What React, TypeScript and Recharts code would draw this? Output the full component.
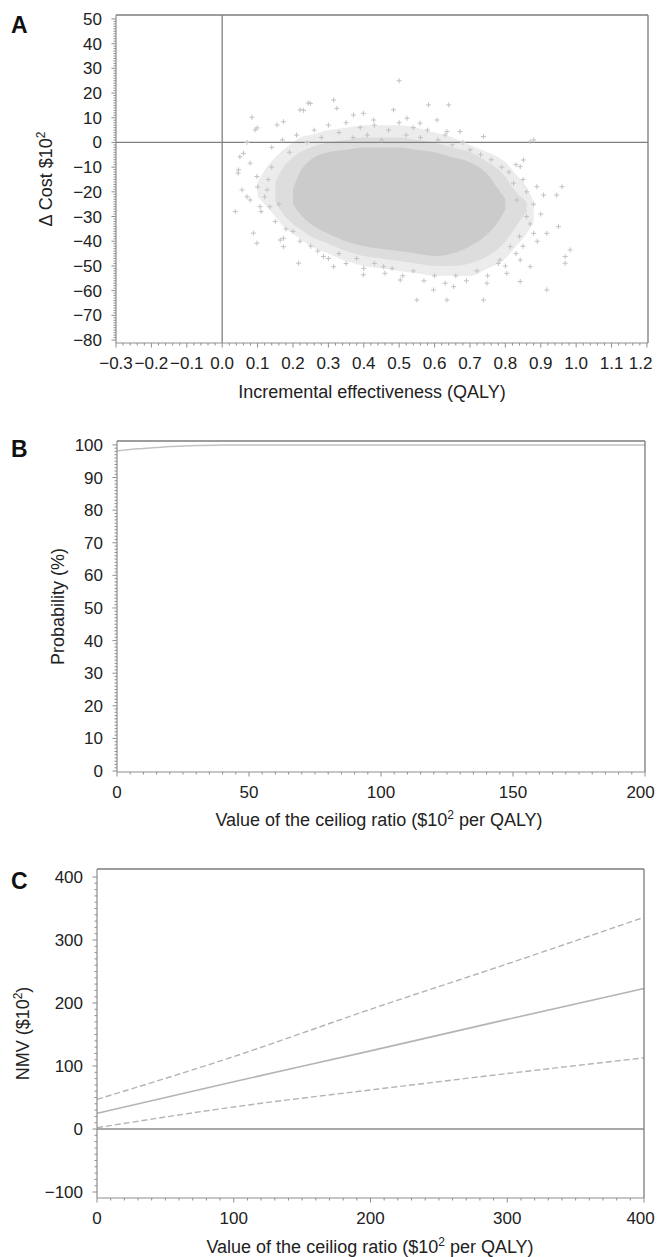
import React from "react";
import {
  ComposedChart,
  LineChart,
  Line,
  Area,
  Scatter,
  XAxis,
  YAxis,
  ReferenceLine,
  Label,
} from "recharts";

const FONT = "'Liberation Sans', Arial, Helvetica, sans-serif";
const TEXT = "#222";
const AXIS = "#8e8e8e";
const FRAME = "#7c7c7c";
const MARK = "#c2c2c2";

// ---- Panel A: cost-effectiveness plane ----
// density envelope of the simulation cloud
const envX = [0.1, 0.126, 0.15, 0.173, 0.2, 0.22, 0.25, 0.3, 0.35, 0.4, 0.45, 0.5, 0.55, 0.6, 0.65, 0.7, 0.75, 0.78, 0.8, 0.83, 0.86, 0.88];
const envOuter = [
  [-22, -16], [-26, -10], [-30, -6], [-34, -3], [-37, 0], [-39, 2], [-42, 3], [-45, 5], [-48, 6], [-50, 7], [-51, 7],
  [-52, 7], [-53, 6], [-54, 4], [-54, 2], [-54, -1], [-51, -4], [-49, -6], [-47, -8], [-42, -13], [-37, -18], [-32, -24],
];
const envMid = [
  null, null, [-24, -16], [-29, -10], [-33, -6], [-35, -4], [-38, -2], [-41, 0], [-44, 1], [-46, 2], [-47, 2],
  [-48, 2], [-49, 1], [-50, 0], [-50, -2], [-49, -4], [-46, -8], [-43, -11], [-40, -14], [-34, -20], [-28, -24], null,
];
const envCore = [
  null, null, null, null, [-25, -19], [-29, -12], [-33, -7], [-37, -4], [-40, -3], [-42, -2], [-43, -2],
  [-44, -2], [-45, -3], [-46, -4], [-45, -6], [-42, -8], [-37, -13], [-32, -19], [-27, -23], null, null, null,
];

// scattered simulations outside the dense core (QALY, cost)
const simPoints: [number, number][] = [
  [0.084, 10.2], [0.093, 5.1], [0.099, 5.9], [0.155, 7.1], [0.173, 8.4], [0.22, 13.2], [0.23, 13], [0.243, 16], [0.249, 15.8],
  [0.315, 17.2], [0.324, 13.8], [0.371, 11.1], [0.399, 11.8], [0.428, 9.1], [0.484, 13.2], [0.5, 25], [0.522, 9.8],
  [0.559, 7.8], [0.583, 15.2], [0.607, 9.1], [0.635, 4.4], [0.64, 15.2], [0.672, 4.4], [0.738, 2.4], [0.87, 0.3], [0.88, 1.0],
  [0.07, 0], [0.05, -5.8], [0.045, -12.4], [0.06, -4.4], [0.046, -11.1], [0.037, -28], [0.079, -8.4], [0.098, -13.8],
  [0.056, -19.2], [0.07, -22], [0.079, -23.3], [0.107, -26], [0.127, -19.2], [0.135, -26], [0.088, -36.7], [0.098, -40.8],
  [0.164, -39.5], [0.173, -42.2], [0.173, -38.8], [0.216, -48.9], [0.286, -46.2], [0.315, -50.3], [0.399, -53.6],
  [0.456, -50.3], [0.503, -55.7], [0.55, -63.8], [0.597, -59.7], [0.635, -63.8], [0.654, -58.4], [0.738, -63.8],
  [0.748, -57], [0.804, -53], [0.842, -56.3], [0.87, -50.3], [0.917, -59.7], [0.969, -46.2], [0.983, -43.5],
  [0.969, -48.9], [0.95, -34.1], [0.96, -17.9], [0.945, -21.3], [0.908, -21.3], [0.889, -17.9], [0.917, -36.8],
  [0.88, -36.8], [0.86, -30], [0.851, -7.1], [0.842, -9.8], [0.823, -16.5], [0.832, -23.3], [0.814, -42.2],
  [0.785, -47.6], [0.842, -47.6],
  // fringe around the cloud
  [0.14, -2], [0.17, 1], [0.19, -4], [0.21, 3], [0.24, 0], [0.26, 5], [0.28, 2], [0.3, 7], [0.33, 4], [0.35, 8],
  [0.37, 2], [0.39, 6], [0.41, 3], [0.43, 7], [0.45, 1], [0.47, 5], [0.5, 8], [0.52, 3], [0.54, 6], [0.56, 2],
  [0.58, 5], [0.61, 1], [0.63, 3], [0.65, -1], [0.68, 0], [0.7, -3], [0.73, -5], [0.76, -7], [0.79, -10], [0.81, -12],
  [0.2, -36], [0.22, -40], [0.25, -42], [0.27, -44], [0.3, -47], [0.33, -45], [0.35, -49], [0.38, -47], [0.4, -51],
  [0.43, -49], [0.46, -53], [0.48, -51], [0.51, -54], [0.54, -52], [0.57, -56], [0.6, -54], [0.63, -57], [0.66, -54],
  [0.69, -56], [0.72, -52], [0.75, -54], [0.78, -49], [0.8, -50], [0.83, -45], [0.85, -42],
  [0.1, -18], [0.12, -22], [0.13, -15], [0.11, -28], [0.15, -32], [0.14, -10], [0.16, -25], [0.18, -35],
  [0.86, -20], [0.88, -25], [0.87, -33], [0.9, -29], [0.84, -38], [0.89, -40], [0.85, -15], [0.83, -9],
];

// ---- Panel B: acceptability curve ----
const ceacLambda = [0, 5, 10, 15, 20, 25, 30, 40, 50, 75, 100, 125, 150, 175, 200];
const ceacProb = [98.2, 98.6, 98.9, 99.2, 99.5, 99.7, 99.85, 99.95, 100, 100, 100, 100, 100, 100, 100];

// ---- Panel C: net monetary value ----
const nmvLambda = [0, 100, 200, 300, 400];
const nmvMean = [25, 75, 124, 174, 223];
const nmvUpper = [47, 115, 190, 262, 336];
const nmvLower = [2, 35, 62, 88, 113];

const envRows = envX.map((x, i) => ({ x, outer: envOuter[i], mid: envMid[i], core: envCore[i] }));
const simRows = simPoints.map(([x, y]) => ({ x, y }));
const ceacRows = ceacLambda.map((l, i) => ({ l, p: ceacProb[i] }));
const nmvRows = nmvLambda.map((l, i) => ({ l, mean: nmvMean[i], upper: nmvUpper[i], lower: nmvLower[i] }));

// tick positions (major + minor)
const steps = (from: number, to: number, step: number, dec = 0) => {
  const out: number[] = [];
  const n = Math.round((to - from) / step);
  for (let i = 0; i <= n; i++) out.push(Number((from + i * step).toFixed(dec)));
  return out;
};

const minus = (s: string) => s.replace("-", "\u2212");
const fmtInt = (v: number) => minus(String(v));
const fmtDec = (v: number) => minus(v.toFixed(1));
const every = (n: number, scale = 1) => (v: number) => Math.round(v * scale) % n === 0;

const bottomTick = (isMajor: (v: number) => boolean, fmt: (v: number) => string) => (p: any) => {
  const v = p.payload.value;
  const major = isMajor(v);
  const label = fmt(v);
  // keep the last label inside the page, as the original does
  const tx = Math.min(p.x, 655 - label.length * 4.8);
  return (
    <g key={`bt-${p.index}`}>
      <line x1={p.x} x2={p.x} y1={p.y} y2={p.y + (major ? 4.5 : 2.5)} stroke={AXIS} strokeWidth={1} />
      {major && (
        <text x={tx} y={p.y + 26} textAnchor="middle" fontSize={17} fill={TEXT} fontFamily={FONT}>
          {label}
        </text>
      )}
    </g>
  );
};

const leftTick = (isMajor: (v: number) => boolean, fmt: (v: number) => string) => (p: any) => {
  const v = p.payload.value;
  const major = isMajor(v);
  return (
    <g key={`lt-${p.index}`}>
      <line x1={p.x} x2={p.x - (major ? 4.5 : 2.5)} y1={p.y} y2={p.y} stroke={AXIS} strokeWidth={1} />
      {major && (
        <text x={p.x - 14} y={p.y + 6} textAnchor="end" fontSize={17} fill={TEXT} fontFamily={FONT}>
          {fmt(v)}
        </text>
      )}
    </g>
  );
};

// text with a raised "2"
const supText = (before: string, sup: string, after?: string) => (
  <>
    <tspan>{before}</tspan>
    <tspan dy={-7} fontSize={12}>
      {sup}
    </tspan>
    {after ? <tspan dy={7}>{after}</tspan> : null}
  </>
);

const xTitle = (cx: number, dyCenter: number, parts: React.ReactNode) => (props: any) => {
  const vb = props.viewBox || {};
  return (
    <text x={cx} y={vb.y + dyCenter + 6} textAnchor="middle" fontSize={18} fill={TEXT} fontFamily={FONT}>
      {parts}
    </text>
  );
};

const yTitle = (cx: number, parts: React.ReactNode) => (props: any) => {
  const vb = props.viewBox || {};
  const cy = vb.y + vb.height / 2;
  return (
    <text
      x={cx}
      y={cy + 6}
      transform={`rotate(-90 ${cx} ${cy})`}
      textAnchor="middle"
      fontSize={18}
      fill={TEXT}
      fontFamily={FONT}
    >
      {parts}
    </text>
  );
};

const plus = (p: any) => {
  const { cx, cy } = p;
  if (cx == null || cy == null) return <g />;
  return (
    <path
      d={`M${cx - 2.5} ${cy}H${cx + 2.5}M${cx} ${cy - 2.5}V${cy + 2.5}`}
      stroke={MARK}
      strokeWidth={1}
      fill="none"
    />
  );
};

const Letter = ({ ch, top }: { ch: string; top: number }) => (
  <div
    style={{
      position: "absolute",
      left: 11,
      top,
      fontSize: 23,
      lineHeight: "23px",
      fontWeight: "bold",
      fontFamily: FONT,
      color: "#111",
    }}
  >
    {ch}
  </div>
);

const ceilingTitle = supText("Value of the ceiliog ratio ($10", "2", " per QALY)");

function PlaneChart() {
  const yMax = 51.6;
  const xMax = 1.203;
  return (
    <ComposedChart width={657} height={412} data={envRows} margin={{ top: 15, right: 9, left: 56, bottom: 39 }}>
      <XAxis
        type="number"
        dataKey="x"
        domain={[-0.3, xMax]}
        allowDataOverflow
        ticks={steps(-0.3, 1.2, 0.02, 2)}
        interval={0}
        tickSize={0}
        tickMargin={0}
        tickLine={false}
        axisLine={{ stroke: AXIS, strokeWidth: 1.2 }}
        tick={bottomTick(every(10, 100), fmtDec)}
        height={30}
      >
        <Label content={xTitle(372, 49, "Incremental effectiveness (QALY)")} />
      </XAxis>
      <YAxis
        type="number"
        dataKey="y"
        domain={[-81.2, yMax]}
        allowDataOverflow
        ticks={steps(-80, 50, 1)}
        interval={0}
        tickSize={0}
        tickMargin={0}
        tickLine={false}
        axisLine={{ stroke: AXIS, strokeWidth: 1.2 }}
        tick={leftTick(every(10), fmtInt)}
        width={60}
      >
        <Label content={yTitle(46, supText("\u0394 Cost $10", "2"))} />
      </YAxis>
      <Area dataKey="outer" type="monotone" stroke="none" fill="#ececec" fillOpacity={1} dot={false} activeDot={false} isAnimationActive={false} />
      <Area dataKey="mid" type="monotone" stroke="none" fill="#dddddd" fillOpacity={1} dot={false} activeDot={false} isAnimationActive={false} />
      <Area dataKey="core" type="monotone" stroke="none" fill="#cbcbcb" fillOpacity={1} dot={false} activeDot={false} isAnimationActive={false} />
      <Scatter data={simRows} shape={plus} isAnimationActive={false} />
      <ReferenceLine x={0} stroke="#808080" strokeWidth={1.3} />
      <ReferenceLine y={0} stroke="#808080" strokeWidth={1.3} />
      <ReferenceLine y={yMax} stroke={FRAME} strokeWidth={1.3} />
      <ReferenceLine x={xMax} stroke={FRAME} strokeWidth={1.3} />
    </ComposedChart>
  );
}

function CeacChart() {
  const yMax = 101.2;
  return (
    <LineChart width={657} height={420} data={ceacRows} margin={{ top: 21, right: 12, left: 57, bottom: 38 }}>
      <XAxis
        type="number"
        dataKey="l"
        domain={[0, 200]}
        ticks={steps(0, 200, 5)}
        interval={0}
        tickSize={0}
        tickMargin={0}
        tickLine={false}
        axisLine={{ stroke: AXIS, strokeWidth: 1.2 }}
        tick={bottomTick(every(50), fmtInt)}
        height={30}
      >
        <Label content={xTitle(379, 48, ceilingTitle)} />
      </XAxis>
      <YAxis
        type="number"
        domain={[-0.3, yMax]}
        allowDataOverflow
        ticks={steps(0, 100, 1)}
        interval={0}
        tickSize={0}
        tickMargin={0}
        tickLine={false}
        axisLine={{ stroke: AXIS, strokeWidth: 1.2 }}
        tick={leftTick(every(10), fmtInt)}
        width={60}
      >
        <Label content={yTitle(58, "Probability (%)")} />
      </YAxis>
      <Line dataKey="p" type="monotone" stroke="#c2c2c2" strokeWidth={1.5} dot={false} activeDot={false} isAnimationActive={false} />
      <ReferenceLine y={yMax} stroke={FRAME} strokeWidth={1.3} />
      <ReferenceLine x={200} stroke={FRAME} strokeWidth={1.3} />
    </LineChart>
  );
}

function NmvChart() {
  const yMax = 412.7;
  return (
    <LineChart width={657} height={425} data={nmvRows} margin={{ top: 29, right: 13, left: 37, bottom: 37 }}>
      <XAxis
        type="number"
        dataKey="l"
        domain={[0, 400]}
        ticks={steps(0, 400, 10)}
        interval={0}
        tickSize={0}
        tickMargin={0}
        tickLine={false}
        axisLine={{ stroke: AXIS, strokeWidth: 1.2 }}
        tick={bottomTick(every(100), fmtInt)}
        height={30}
      >
        <Label content={xTitle(370, 49, ceilingTitle)} />
      </XAxis>
      <YAxis
        type="number"
        domain={[-109.5, yMax]}
        allowDataOverflow
        ticks={steps(-100, 400, 10)}
        interval={0}
        tickSize={0}
        tickMargin={0}
        tickLine={false}
        axisLine={{ stroke: AXIS, strokeWidth: 1.2 }}
        tick={leftTick(every(100), fmtInt)}
        width={60}
      >
        <Label content={yTitle(23, supText("NMV ($10", "2", ")"))} />
      </YAxis>
      <ReferenceLine y={0} stroke="#a8a8a8" strokeWidth={2} />
      <Line dataKey="upper" type="monotone" stroke="#b4b4b4" strokeWidth={1.4} strokeDasharray="6 3" dot={false} activeDot={false} isAnimationActive={false} />
      <Line dataKey="mean" type="monotone" stroke="#b4b4b4" strokeWidth={1.6} dot={false} activeDot={false} isAnimationActive={false} />
      <Line dataKey="lower" type="monotone" stroke="#b4b4b4" strokeWidth={1.4} strokeDasharray="6 3" dot={false} activeDot={false} isAnimationActive={false} />
      <ReferenceLine y={yMax} stroke={FRAME} strokeWidth={1.3} />
      <ReferenceLine x={400} stroke={FRAME} strokeWidth={1.3} />
    </LineChart>
  );
}

export default function App() {
  return (
    <div
      style={{
        position: "absolute",
        left: 0,
        top: 0,
        width: 657,
        height: 1257,
        background: "#fff",
        overflow: "hidden",
      }}
    >
      <div style={{ position: "absolute", left: 0, top: 0 }}>
        <PlaneChart />
      </div>
      <div style={{ position: "absolute", left: 0, top: 420 }}>
        <CeacChart />
      </div>
      <div style={{ position: "absolute", left: 0, top: 840 }}>
        <NmvChart />
      </div>
      <Letter ch="A" top={14} />
      <Letter ch="B" top={438} />
      <Letter ch="C" top={870} />
    </div>
  );
}
